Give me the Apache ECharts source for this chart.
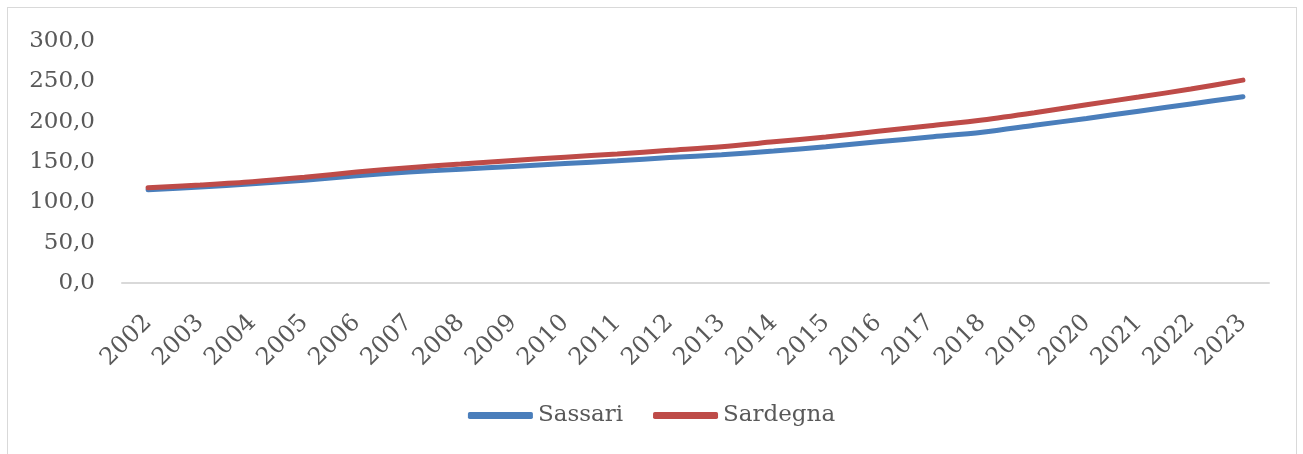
<!DOCTYPE html>
<html>
<head>
<meta charset="utf-8">
<script src="https://cdn.jsdelivr.net/npm/echarts@6/dist/echarts.min.js"></script>
<style>
  html, body { margin: 0; padding: 0; background: #fff; }
  #frame { position: absolute; left: 7px; top: 7px; width: 1290px; height: 460px; border: 1px solid #d9d9d9; box-sizing: border-box; }
  #chart { position: absolute; left: 0; top: 0; width: 1303px; height: 454px; }
</style>
</head>
<body>
<div id="frame"></div>
<div id="chart"></div>
<script>
const years = ['2002', '2003', '2004', '2005', '2006', '2007', '2008', '2009', '2010', '2011', '2012',
  '2013', '2014', '2015', '2016', '2017', '2018', '2019', '2020', '2021', '2022', '2023']
const sassari = [115.5, 119, 123, 127.5, 133, 137.5, 141, 144.5, 148, 151.5, 155.5,
  159, 163.5, 169, 175, 181, 187, 195.5, 204, 213, 222, 231]
const sardegna = [118, 121.5, 125.5, 131, 137.5, 143, 147.5, 152, 156, 160, 164.5,
  169, 175, 181, 188, 195, 202, 211, 221, 230.5, 240.5, 251.5]

const font = 'DejaVu Serif'
const textColor = '#595959'

const chart = echarts.init(document.getElementById('chart'))

const option = {
  animation: false,
  grid: {
    left: 122,
    right: 34,
    top: 41,
    bottom: 171,
  },
  legend: {
    bottom: 22,
    left: 'center',
    icon: 'roundRect',
    itemWidth: 65,
    itemHeight: 7,
    itemGap: 30,
    textStyle: { fontFamily: font, fontSize: 23, color: textColor },
    data: ['Sassari', 'Sardegna'],
  },
  xAxis: {
    type: 'category',
    data: years,
    boundaryGap: true,
    axisLine: { lineStyle: { color: '#d9d9d9', width: 2 } },
    axisTick: { show: false },
    axisLabel: {
      rotate: 45,
      margin: 36,
      interval: 0,
      fontFamily: font,
      fontSize: 24,
      color: textColor,
    },
  },
  yAxis: {
    type: 'value',
    min: 0,
    max: 300,
    interval: 50,
    splitLine: { show: false },
    axisLine: { show: false },
    axisTick: { show: false },
    axisLabel: {
      margin: 27,
      fontFamily: font,
      fontSize: 23,
      color: textColor,
      formatter: (v) => v.toFixed(1).replace('.', ','),
    },
  },
  series: [
    {
      name: 'Sassari',
      type: 'line',
      data: sassari,
      smooth: 0.3,
      showSymbol: false,
      lineStyle: { color: '#4a7ebb', width: 5, cap: 'round' },
      itemStyle: { color: '#4a7ebb' },
    },
    {
      name: 'Sardegna',
      type: 'line',
      data: sardegna,
      smooth: 0.3,
      showSymbol: false,
      lineStyle: { color: '#be4b48', width: 5, cap: 'round' },
      itemStyle: { color: '#be4b48' },
    },
  ],
}

chart.setOption(option)
</script>
</body>
</html>
